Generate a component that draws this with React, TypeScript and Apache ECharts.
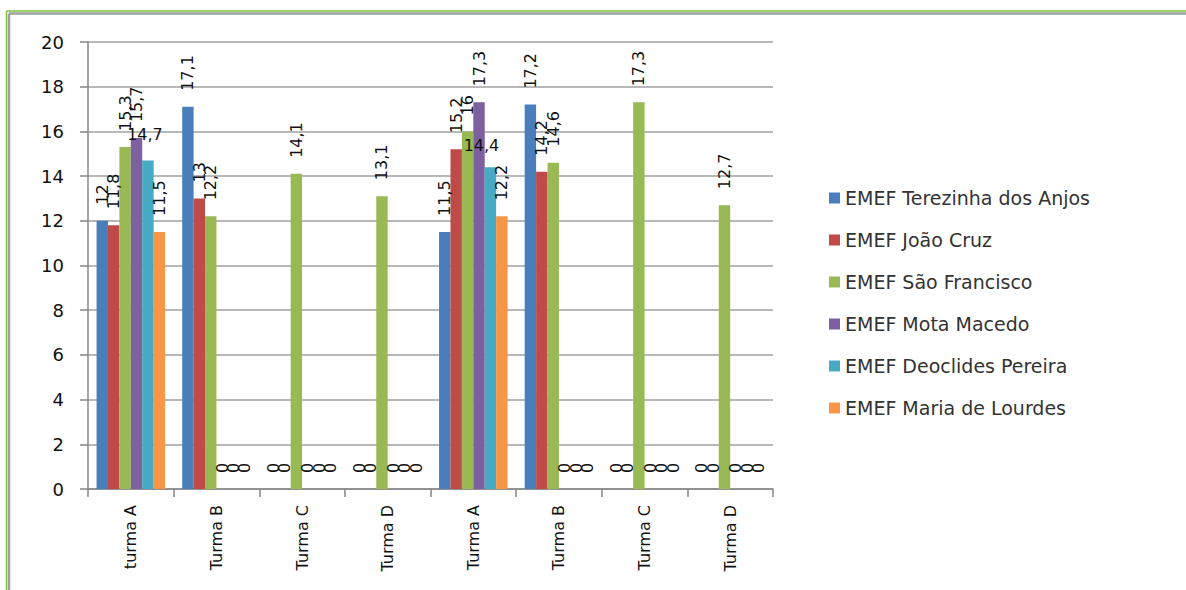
import React, { useEffect, useRef } from "react";
import * as echarts from "echarts";

const categories = ["turma A", "Turma B", "Turma C", "Turma D", "Turma A", "Turma B", "Turma C", "Turma D"];
const seriesNames = [
  "EMEF Terezinha dos Anjos",
  "EMEF João Cruz",
  "EMEF São Francisco",
  "EMEF Mota Macedo",
  "EMEF Deoclides Pereira",
  "EMEF Maria de Lourdes",
];
const terezinha = [12, 17.1, 0, 0, 11.5, 17.2, 0, 0];
const joaoCruz = [11.8, 13, 0, 0, 15.2, 14.2, 0, 0];
const saoFrancisco = [15.3, 12.2, 14.1, 13.1, 16, 14.6, 17.3, 12.7];
const motaMacedo = [15.7, 0, 0, 0, 17.3, 0, 0, 0];
const deoclides = [14.7, 0, 0, 0, 14.4, 0, 0, 0];
const mariaLourdes = [11.5, 0, 0, 0, 12.2, 0, 0, 0];
const yTicks = { min: 0, max: 20, interval: 2 };

const colors = ["#4a7ebb", "#be4b48", "#98b954", "#7d60a0", "#46aac5", "#f79646"];
const allData = [terezinha, joaoCruz, saoFrancisco, motaMacedo, deoclides, mariaLourdes];

const FONT = "DejaVu Sans";

export default function App() {
  const ref = useRef<HTMLDivElement>(null);
  useEffect(() => {
    if (!ref.current) return;
    const chart = echarts.init(ref.current, undefined, { renderer: "svg" });
    const fmt = (p: any) => String(p.value).replace(".", ",");
    const series = allData.map((arr, si) => ({
      name: seriesNames[si],
      type: "bar",
      barGap: "0%",
      barCategoryGap: "20%",
      itemStyle: { color: colors[si] },
      label: {
        show: true,
        position: "top",
        rotate: 90,
        align: "left",
        verticalAlign: "middle",
        distance: 16,
        fontFamily: FONT,
        fontSize: 16,
        color: "#111",
        formatter: fmt,
      },
      data: arr.map((v, i) => {
        if (si === 4 && v > 0) {
          return {
            value: v,
            label: {
              rotate: 0,
              align: "center",
              verticalAlign: "bottom",
              distance: i === 0 ? 18 : 14,
              offset: [i === 0 ? -3 : -9, 0],
            },
          };
        }
        return v;
      }),
    }));
    chart.setOption({
      animation: false,
      backgroundColor: "#ffffff",
      grid: { left: 88, right: 413, top: 42, bottom: 101, containLabel: false },
      legend: {
        orient: "vertical",
        left: 824,
        top: 183,
        itemWidth: 11,
        itemHeight: 11,
        itemGap: 22,
        icon: "rect",
        data: seriesNames,
        textStyle: { fontFamily: FONT, fontSize: 19, color: "#333", lineHeight: 20 },
      },
      xAxis: {
        type: "category",
        data: categories,
        axisLine: { lineStyle: { color: "#868686", width: 1.5 } },
        axisTick: { show: true, length: 8, lineStyle: { color: "#868686", width: 1.5 } },
        axisLabel: {
          rotate: 90,
          margin: 16,
          fontFamily: FONT,
          fontSize: 16,
          color: "#111",
          interval: 0,
        },
      },
      yAxis: {
        type: "value",
        min: yTicks.min,
        max: yTicks.max,
        interval: yTicks.interval,
        axisLine: { show: true, lineStyle: { color: "#868686", width: 1.5 } },
        axisTick: { show: true, length: 8, lineStyle: { color: "#868686", width: 1.5 } },
        axisLabel: { margin: 24, fontFamily: FONT, fontSize: 18, color: "#111" },
        splitLine: { lineStyle: { color: "#a0a0a0", width: 1.5 } },
      },
      graphic: [
        { type: "line", shape: { x1: 6.5, y1: 11, x2: 1186, y2: 11 }, style: { stroke: "#7cc142", lineWidth: 1.5 } },
        { type: "line", shape: { x1: 9, y1: 13.5, x2: 1186, y2: 13.5 }, style: { stroke: "#a0a0a0", lineWidth: 2.5 } },
        { type: "line", shape: { x1: 6.5, y1: 11, x2: 6.5, y2: 590 }, style: { stroke: "#7cc142", lineWidth: 1.5 } },
        { type: "line", shape: { x1: 9, y1: 13.5, x2: 9, y2: 590 }, style: { stroke: "#a0a0a0", lineWidth: 2.5 } },
      ],
      series,
    });
    return () => chart.dispose();
  }, []);
  return (
    <div
      ref={ref}
      style={{ position: "absolute", left: 0, top: 0, width: 1186, height: 590, background: "#fff" }}
    />
  );
}
